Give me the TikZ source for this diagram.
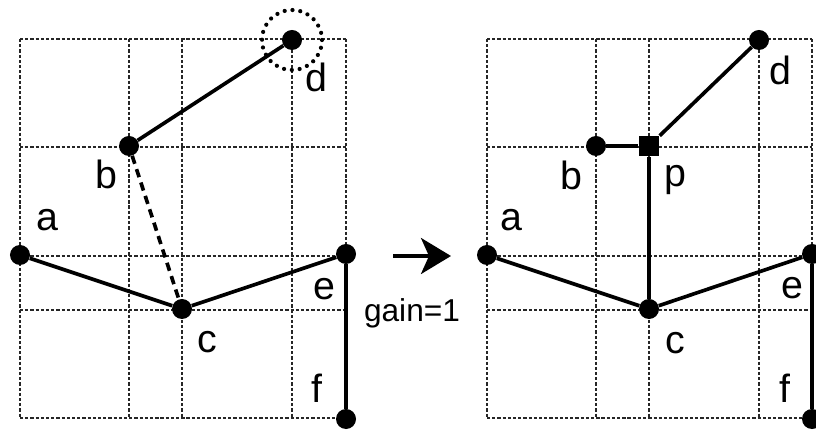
\documentclass[tikz,border=0pt]{standalone}
\usepackage{fontspec}
\setmainfont{Liberation Sans}
\usepackage{tikz}
\usetikzlibrary{arrows.meta, positioning}
\tikzstyle{gridline} = [
    line width=1.05pt,
    dash pattern=on 2.3pt off 1.4pt,
    black!85
]
\tikzstyle{dot} = [
    circle,
    fill=black,
    inner sep=0pt,
    minimum size=0.5cm
]
\tikzstyle{sqr} = [
    rectangle,
    fill=black,
    inner sep=0pt,
    minimum size=0.52cm
]
\tikzstyle{edge} = [
    line width=2.6pt,
    black
]
\tikzstyle{cand} = [
    line width=2.6pt,
    dash pattern=on 6pt off 4pt,
    black
]
\tikzstyle{ring} = [
    line width=3pt,
    dash pattern=on 0pt off 5.6pt,
    line cap=round,
    black
]
\tikzstyle{lbl} = [
    inner sep=0pt,
    font=\fontsize{28}{32}\selectfont
]
\tikzstyle{arrow} = [
    line width=2.4pt,
    -{Stealth[length=0.75cm, width=0.9cm, inset=0.2cm]}
]

\begin{document}
\begin{tikzpicture}[x=0.025cm, y=-0.025cm]
    \useasboundingbox (0,0) rectangle (816,432);

    % Grids
    \foreach \x in {20,129,182,292,346}
        \draw [gridline] (\x,39) -- (\x,418);
    \foreach \y in {39,147,256,310,418}
        \draw [gridline] (20,\y) -- (346,\y);
    \foreach \x in {487,596,649,759,812}
        \draw [gridline] (\x,39) -- (\x,418);
    \foreach \y in {39,147,256,310,418}
        \draw [gridline] (487,\y) -- (812,\y);

    % Nodes (before)
    \node (a1) [dot] at (20,255) {};
    \node (b1) [dot] at (129,146) {};
    \node (c1) [dot] at (182,309) {};
    \node (d1) [dot] at (292,40) {};
    \node (e1) [dot] at (346,254) {};
    \node (f1) [dot] at (346,419) {};
    \draw [ring] (d1.center) circle (30);

    % Edges (before)
    \draw [edge] (a1) -- (c1);
    \draw [edge] (c1) -- (e1);
    \draw [edge] (e1) -- (f1);
    \draw [edge] (b1) -- (d1);
    \draw [cand] (b1) -- (c1);

    % Labels (before)
    \node (ta1) [lbl] at (47,220) {a};
    \node (tb1) [lbl] at (106,174) {b};
    \node (tc1) [lbl] at (207,342) {c};
    \node (td1) [lbl] at (316,77) {d};
    \node (te1) [lbl] at (324,289) {e};
    \node (tf1) [lbl] at (317,388) {f};

    % Step
    \coordinate (arrS) at (393,256);
    \coordinate (arrE) at (451,256);
    \draw [arrow] (arrS) -- (arrE);
    \node (gain) [anchor=base, inner sep=0pt, font=\fontsize{22.5}{26}\selectfont] at (412,322) {gain=1};

    % Nodes (after)
    \node (a2) [dot] at (487,255) {};
    \node (b2) [dot] at (596,146) {};
    \node (p2) [sqr] at (649,146) {};
    \node (c2) [dot] at (649,309) {};
    \node (d2) [dot] at (759,40) {};
    \node (e2) [dot] at (812,254) {};
    \node (f2) [dot] at (812,419) {};

    % Edges (after)
    \draw [edge] (a2) -- (c2);
    \draw [edge] (c2) -- (e2);
    \draw [edge] (e2) -- (f2);
    \draw [edge] (c2) -- (p2);
    \draw [edge] (b2) -- (p2);
    \draw [edge] (p2) -- (d2);

    % Labels (after)
    \node (ta2) [lbl] at (511,220) {a};
    \node (tb2) [lbl] at (571,175) {b};
    \node (tp2) [lbl] at (675,180) {p};
    \node (tc2) [lbl] at (675,343) {c};
    \node (td2) [lbl] at (780,70) {d};
    \node (te2) [lbl] at (792,288) {e};
    \node (tf2) [lbl] at (785,388) {f};

\end{tikzpicture}
\end{document}
